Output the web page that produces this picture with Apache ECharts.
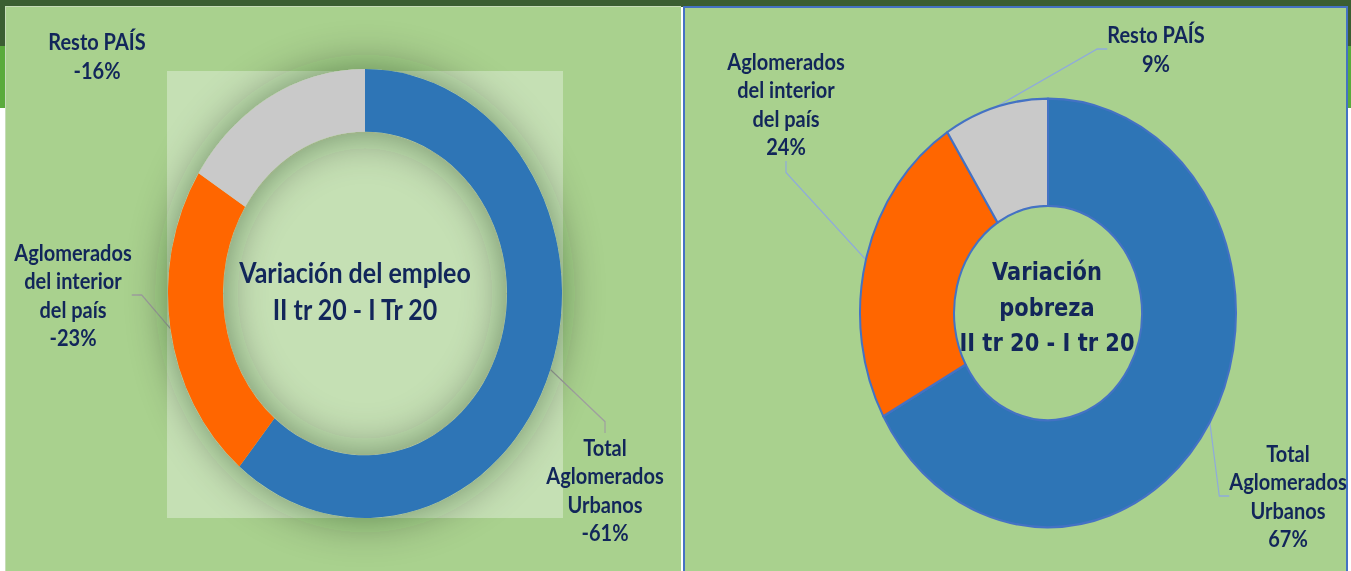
<!DOCTYPE html>
<html>
<head>
<meta charset="utf-8">
<script src="https://cdn.jsdelivr.net/npm/echarts@6/dist/echarts.min.js"></script>
<style>
  body { margin: 0; background: #fff; width: 1351px; height: 571px; overflow: hidden; position: relative; }
  .blk { position: absolute; }
  #main { position: absolute; left: 0; top: 0; width: 1351px; height: 501px; transform-origin: 0 0; }
</style>
</head>
<body>
<div class="blk" style="left:0;top:0;width:1351px;height:7px;background:#3b5e32"></div>
<div class="blk" style="left:0;top:0;width:6px;height:46px;background:#3b5e32"></div>
<div class="blk" style="left:0;top:46px;width:6px;height:62px;background:#5aab3c"></div>
<div class="blk" style="left:1346px;top:0;width:5px;height:46px;background:#3b5e32"></div>
<div class="blk" style="left:1346px;top:46px;width:5px;height:62px;background:#5aab3c"></div>
<div class="blk" style="left:5px;top:6px;width:675px;height:565px;background:#a9d18e;border-top:1px solid #c6dcb8;border-left:1px solid #c6dcb8"></div>
<div class="blk" style="left:683px;top:6px;width:661px;height:565px;background:#a9d18e;border:2px solid #4472c4;border-bottom:none"></div>
<div id="main"></div>
<script type="text/javascript">
  // picture is stretched vertically, chart is drawn in a shorter box and scaled
  const SY = 571 / 501
  document.getElementById('main').style.transform = 'scaleY(' + SY + ')'

  const sliceNames = ['Total\nAglomerados\nUrbanos', 'Aglomerados\ndel interior\ndel país', 'Resto PAÍS']
  const empleoValues = [-61, -23, -16]
  const pobrezaValues = [67, 24, 9]
  const sliceColors = ['#2e75b6', '#ff6600', '#c9c9c9']
  const empleoTitle = 'Variación del empleo\nII tr 20 - I Tr 20'
  const pobrezaTitle = 'Variación\npobreza\nII tr 20 - I tr 20'

  // label centres, in picture pixels
  const empleoLabelPos = [[605, 490], [73, 295], [97, 56]]
  const pobrezaLabelPos = [[1288, 496], [786, 104], [1156, 49]]

  const TEXT = '#12265a'
  const labelStyle = {
    color: TEXT,
    fontFamily: 'Lato',
    fontWeight: 'bold',
    fontSize: 20,
    lineHeight: 28.5 / SY
  }

  function buildData(values, noLine) {
    return values.map((v, i) => ({
      name: sliceNames[i],
      value: Math.abs(v),
      signed: v,
      itemStyle: { color: sliceColors[i] },
      labelLine: noLine.indexOf(i) > -1 ? { show: false } : { show: true }
    }))
  }

  const myChart = echarts.init(document.getElementById('main'), null, { renderer: 'svg' })
  const option = {
    animation: false,
    graphic: [
      {
        type: 'rect',
        z: -10,
        shape: { x: 167, y: 71 / SY, width: 396, height: 447 / SY },
        style: { fill: '#c5e0b4' }
      },
      {
        type: 'text',
        z: 100,
        x: 355,
        y: 290.5 / SY,
        style: {
          text: empleoTitle,
          font: 'bold 25px Lato',
          fill: TEXT,
          align: 'center',
          verticalAlign: 'middle',
          textAlign: 'center',
          textVerticalAlign: 'middle',
          lineHeight: 37 / SY
        }
      },
      {
        type: 'text',
        z: 100,
        x: 1047,
        y: 307 / SY,
        style: {
          text: pobrezaTitle,
          font: 'bold 21px "DejaVu Sans"',
          fill: TEXT,
          align: 'center',
          verticalAlign: 'middle',
          textAlign: 'center',
          textVerticalAlign: 'middle',
          lineHeight: 36 / SY
        }
      }
    ],
    series: [
      {
        // soft shadow ring under the employment donut
        type: 'pie',
        silent: true,
        center: [365, 293.5 / SY],
        radius: [142, 197],
        label: { show: false },
        labelLine: { show: false },
        data: [{ value: 1, itemStyle: { color: '#b9d5a6' } }],
        itemStyle: {
          shadowBlur: 40,
          shadowColor: 'rgba(20,40,10,0.45)'
        }
      },
      {
        type: 'pie',
        center: [365, 293.5 / SY],
        radius: [142, 197],
        startAngle: 90,
        clockwise: true,
        avoidLabelOverlap: false,
        silent: true,
        data: buildData(empleoValues, [2]),
        label: Object.assign({
          position: 'outside',
          formatter: (p) => p.name + '\n' + p.data.signed + '%'
        }, labelStyle),
        labelLine: {
          show: true,
          length: 10,
          length2: 10,
          lineStyle: { color: '#9f9f9f', width: 1.2 }
        },
        labelLayout: (p) => {
          const pos = empleoLabelPos[p.dataIndex]
          return { x: pos[0], y: pos[1] / SY, align: 'center', verticalAlign: 'middle' }
        }
      },
      {
        type: 'pie',
        center: [1048, 313 / SY],
        radius: [94, 188],
        startAngle: 90,
        clockwise: true,
        avoidLabelOverlap: false,
        silent: true,
        data: buildData(pobrezaValues, []),
        itemStyle: {
          borderColor: '#4472c4',
          borderWidth: 2
        },
        label: Object.assign({
          position: 'outside',
          formatter: (p) => p.name + '\n' + p.data.signed + '%'
        }, labelStyle),
        labelLine: {
          show: true,
          length: 10,
          length2: 10,
          lineStyle: { color: '#8faadc', width: 1.2 }
        },
        labelLayout: (p) => {
          const pos = pobrezaLabelPos[p.dataIndex]
          return { x: pos[0], y: pos[1] / SY, align: 'center', verticalAlign: 'middle' }
        }
      }
    ]
  }
  myChart.setOption(option)
</script>
</body>
</html>
